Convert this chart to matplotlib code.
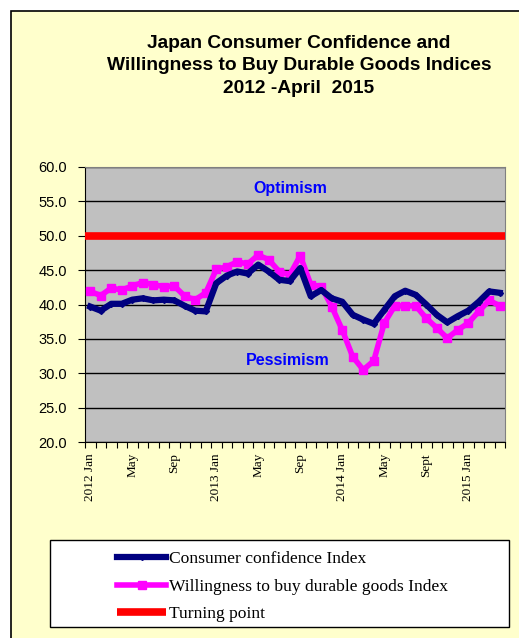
import matplotlib
matplotlib.use("Agg")
import matplotlib.pyplot as plt
from matplotlib.patches import Rectangle
import numpy as np

months = ["2012 Jan", "Feb", "Mar", "Apr", "May", "Jun", "Jul", "Aug", "Sep", "Oct", "Nov", "Dec",
          "2013 Jan", "Feb", "Mar", "Apr", "May", "Jun", "Jul", "Aug", "Sep", "Oct", "Nov", "Dec",
          "2014 Jan", "Feb", "Mar", "Apr", "May", "Jun", "Jul", "Aug", "Sept", "Oct", "Nov", "Dec",
          "2015 Jan", "Feb", "Mar", "Apr"]
shown_labels = {"2012 Jan", "May", "Sep", "2013 Jan", "2014 Jan", "Sept", "2015 Jan"}

consumer_confidence = [39.7, 39.1, 40.1, 40.1, 40.7, 40.9, 40.6, 40.7, 40.6, 39.8, 39.1, 39.0,
                       43.1, 44.2, 44.8, 44.5, 45.8, 44.8, 43.6, 43.4, 45.3, 41.2, 42.1, 40.9,
                       40.4, 38.5, 37.8, 37.2, 39.2, 41.2, 42.0, 41.4, 40.0, 38.5, 37.4, 38.3,
                       39.1, 40.4, 41.9, 41.7]
durable_goods = [41.9, 41.3, 42.4, 42.1, 42.7, 43.2, 42.9, 42.6, 42.7, 41.2, 40.7, 41.7,
                 45.1, 45.5, 46.2, 45.9, 47.2, 46.5, 44.8, 44.3, 47.1, 42.9, 42.6, 39.7,
                 36.3, 32.4, 30.5, 31.8, 37.3, 39.8, 39.8, 39.8, 38.0, 36.6, 35.1, 36.3,
                 37.3, 39.0, 40.6, 39.8]
turning_point = 50.0

title = "Japan Consumer Confidence and\nWillingness to Buy Durable Goods Indices\n2012 -April  2015"
series_names = ["Consumer confidence Index", "Willingness to buy durable goods Index", "Turning point"]

W, H = 519, 638
fig = plt.figure(figsize=(W / 100, H / 100), dpi=100)
fig.patch.set_facecolor("white")
bg = Rectangle((11 / W, -0.1), 1.2, 1 - 11 / H + 0.1, transform=fig.transFigure,
               facecolor="#FFFFCC", edgecolor="black", lw=1.2, zorder=-10)
fig.patches.append(bg)

fig.text(299 / W, 1 - 66 / H, title, ha="center", va="center", fontsize=13.8,
         fontweight="bold", family="Liberation Sans", linespacing=1.45)

ax = fig.add_axes([85 / W, 1 - 442 / H, (505 - 85) / W, (442 - 167) / H])
ax.set_facecolor("#C0C0C0")
x = np.arange(len(months))
ax.set_xlim(-0.5, len(months) - 0.5)
ax.set_ylim(20, 60)

l3 = ax.axhline(turning_point, color="#FF0000", lw=5.5, solid_capstyle="butt", zorder=3)
l2, = ax.plot(x, durable_goods, color="#FF00FF", lw=4, marker="s", ms=6, zorder=4)
l1, = ax.plot(x, consumer_confidence, color="#000080", lw=4.5, marker="D", ms=3, zorder=5)

yt = np.arange(20, 61, 5)
ax.set_yticks(yt)
ax.set_yticklabels([f"{v:.1f}" for v in yt], family="Liberation Sans", fontsize=10.5)
ax.yaxis.grid(True, color="black", lw=1)
ax.set_axisbelow(True)
ax.tick_params(axis="y", direction="out", length=5, pad=8)

ax.set_xticks(np.arange(-0.5, len(months), 1))
ax.set_xticklabels([])
ax.tick_params(axis="x", which="major", direction="out", length=4)
lab_pos = [i for i, m in enumerate(months) if m in shown_labels]
ax.set_xticks(lab_pos, minor=True)
ax.set_xticklabels([months[i] for i in lab_pos], minor=True, rotation=90,
                   family="Liberation Serif", fontsize=9.5)
ax.tick_params(axis="x", which="minor", length=0, pad=8)

for s in ["top", "right"]:
    ax.spines[s].set_color("#808080")
ax.spines["left"].set_color("black")
ax.spines["bottom"].set_color("black")

ax.text(19.1, 56.9, "Optimism", color="#0000FF", fontsize=11.5, fontweight="bold",
        family="Liberation Sans", ha="center", va="center")
ax.text(18.8, 31.8, "Pessimism", color="#0000FF", fontsize=11.5, fontweight="bold",
        family="Liberation Sans", ha="center", va="center")

box = Rectangle((50 / W, 1 - 627 / H), (509 - 50) / W, (627 - 540) / H,
                transform=fig.transFigure, facecolor="white", edgecolor="black",
                lw=1, zorder=-5)
fig.patches.append(box)
leg = fig.legend([l1, l2, l3], series_names, loc="upper left",
                 bbox_to_anchor=(110 / W, 1 - 544 / H), frameon=False,
                 prop={"family": "Liberation Serif", "size": 12.6},
                 handlelength=2.8, handletextpad=0.15, labelspacing=0.64, borderaxespad=0)

fig.savefig("out.png", dpi=100)
